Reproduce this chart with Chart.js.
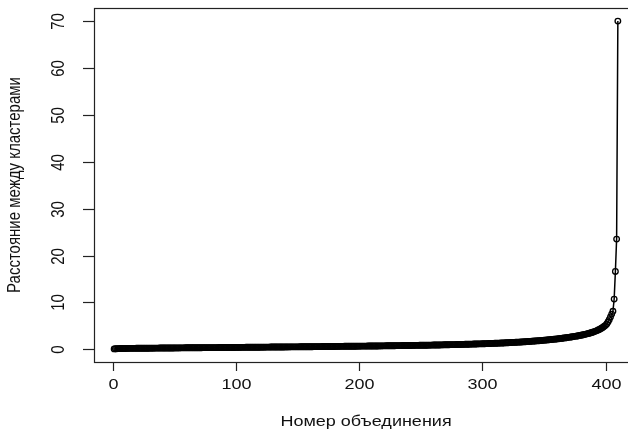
<!DOCTYPE html>
<html>
<head>
<meta charset="utf-8">
<script src="https://cdn.jsdelivr.net/npm/chart.js@4/dist/chart.umd.min.js"></script>
<style>
  html, body { margin: 0; padding: 0; background: #fff; overflow: hidden; }
  #wrap { width: 650px; height: 431px; }
</style>
</head>
<body>
<div id="wrap"><canvas id="myChart" width="650" height="431"></canvas></div>
<script>
// merge heights (sorted), one value per merge step
let heights = [
  0.08, 0.10, 0.12, 0.13, 0.14, 0.15, 0.16, 0.16, 0.17, 0.17,
  0.18, 0.18, 0.19, 0.19, 0.19, 0.20, 0.20, 0.20, 0.21, 0.21,
  0.21, 0.22, 0.22, 0.22, 0.22, 0.23, 0.23, 0.23, 0.23, 0.24,
  0.24, 0.24, 0.24, 0.25, 0.25, 0.25, 0.25, 0.26, 0.26, 0.26,
  0.26, 0.27, 0.27, 0.27, 0.27, 0.28, 0.28, 0.28, 0.28, 0.29,
  0.29, 0.29, 0.29, 0.29, 0.30, 0.30, 0.30, 0.30, 0.31, 0.31,
  0.31, 0.31, 0.31, 0.32, 0.32, 0.32, 0.32, 0.33, 0.33, 0.33,
  0.33, 0.33, 0.34, 0.34, 0.34, 0.34, 0.35, 0.35, 0.35, 0.35,
  0.35, 0.36, 0.36, 0.36, 0.36, 0.37, 0.37, 0.37, 0.37, 0.37,
  0.38, 0.38, 0.38, 0.38, 0.39, 0.39, 0.39, 0.39, 0.39, 0.40,
  0.40, 0.40, 0.40, 0.41, 0.41, 0.41, 0.41, 0.42, 0.42, 0.42,
  0.42, 0.43, 0.43, 0.43, 0.43, 0.44, 0.44, 0.44, 0.44, 0.45,
  0.45, 0.45, 0.45, 0.46, 0.46, 0.46, 0.46, 0.47, 0.47, 0.47,
  0.47, 0.48, 0.48, 0.48, 0.48, 0.49, 0.49, 0.49, 0.49, 0.50,
  0.50, 0.50, 0.50, 0.51, 0.51, 0.51, 0.51, 0.52, 0.52, 0.52,
  0.52, 0.53, 0.53, 0.53, 0.53, 0.54, 0.54, 0.54, 0.55, 0.55,
  0.55, 0.55, 0.56, 0.56, 0.56, 0.56, 0.57, 0.57, 0.57, 0.58,
  0.58, 0.58, 0.58, 0.59, 0.59, 0.59, 0.60, 0.60, 0.60, 0.60,
  0.61, 0.61, 0.61, 0.62, 0.62, 0.62, 0.62, 0.63, 0.63, 0.63,
  0.64, 0.64, 0.64, 0.64, 0.65, 0.65, 0.65, 0.66, 0.66, 0.66,
  0.67, 0.67, 0.67, 0.68, 0.68, 0.68, 0.69, 0.69, 0.69, 0.70,
  0.70, 0.70, 0.71, 0.71, 0.71, 0.72, 0.72, 0.72, 0.73, 0.73,
  0.73, 0.74, 0.74, 0.74, 0.75, 0.75, 0.76, 0.76, 0.76, 0.77,
  0.77, 0.77, 0.78, 0.78, 0.79, 0.79, 0.79, 0.80, 0.80, 0.81,
  0.81, 0.81, 0.82, 0.82, 0.83, 0.83, 0.84, 0.84, 0.85, 0.85,
  0.85, 0.86, 0.86, 0.87, 0.87, 0.88, 0.88, 0.89, 0.89, 0.90,
  0.90, 0.91, 0.91, 0.92, 0.92, 0.93, 0.93, 0.94, 0.95, 0.95,
  0.96, 0.96, 0.97, 0.98, 0.98, 0.99, 1.00, 1.00, 1.01, 1.02,
  1.02, 1.03, 1.04, 1.04, 1.05, 1.06, 1.07, 1.07, 1.08, 1.09,
  1.10, 1.10, 1.11, 1.12, 1.13, 1.14, 1.15, 1.16, 1.16, 1.17,
  1.18, 1.19, 1.20, 1.21, 1.22, 1.23, 1.24, 1.25, 1.26, 1.27,
  1.28, 1.29, 1.30, 1.32, 1.33, 1.34, 1.35, 1.36, 1.38, 1.39,
  1.40, 1.42, 1.43, 1.44, 1.46, 1.47, 1.49, 1.50, 1.52, 1.53,
  1.55, 1.56, 1.58, 1.60, 1.61, 1.63, 1.65, 1.67, 1.69, 1.71,
  1.73, 1.75, 1.77, 1.79, 1.81, 1.83, 1.85, 1.88, 1.90, 1.92,
  1.95, 1.97, 2.00, 2.02, 2.05, 2.08, 2.11, 2.13, 2.16, 2.19,
  2.22, 2.25, 2.29, 2.32, 2.35, 2.39, 2.42, 2.46, 2.50, 2.54,
  2.58, 2.62, 2.66, 2.70, 2.75, 2.80, 2.84, 2.89, 2.94, 3.00,
  3.05, 3.11, 3.17, 3.23, 3.29, 3.36, 3.43, 3.51, 3.59, 3.68,
  3.77, 3.87, 3.98, 4.10, 4.23, 4.37, 4.52, 4.70, 4.90, 5.10,
  5.40, 5.80, 6.30, 6.90, 7.50, 8.10, 10.70, 16.60, 23.50, 70.00
];
let x_ticks = [0, 100, 200, 300, 400];
let y_ticks = [0, 10, 20, 30, 40, 50, 60, 70];
let x_title = "Номер объединения";
let y_title = "Расстояние между кластерами";

const FONT = '"Liberation Sans", Arial, Helvetica, sans-serif';
const STRETCH = 1.2; // the scanned picture is a bit wider than tall

/** writes text centered at (x, y), stretched sideways, optionally turned upright */
function put_text(ctx, txt, x, y, upright) {
    ctx.save();
    ctx.translate(x, y);
    ctx.scale(STRETCH, 1);
    if (upright) ctx.rotate(-Math.PI / 2);
    ctx.fillText(txt, 0, 0);
    ctx.restore();
}

/** R-style axes: box, outside ticks, rotated y labels */
const r_axes = {
    id: 'r_axes',
    afterDraw(chart) {
        const ctx = chart.ctx;
        const a = chart.chartArea;
        const xs = chart.scales.x, ys = chart.scales.y;
        ctx.save();
        ctx.strokeStyle = '#222';
        ctx.lineWidth = 1.2;
        ctx.strokeRect(Math.round(a.left) + 0.5, Math.round(a.top) + 0.5,
                       Math.round(a.right - a.left), Math.round(a.bottom - a.top));
        ctx.fillStyle = '#111';
        ctx.font = '15px ' + FONT;
        ctx.textAlign = 'center';
        ctx.textBaseline = 'middle';
        // x axis
        x_ticks.forEach(v => {
            const px = Math.round(xs.getPixelForValue(v)) + 0.5;
            ctx.beginPath();
            ctx.moveTo(px, a.bottom);
            ctx.lineTo(px, a.bottom + 9);
            ctx.stroke();
            put_text(ctx, String(v), px, a.bottom + 23, false);
        });
        // y axis
        y_ticks.forEach(v => {
            const py = Math.round(ys.getPixelForValue(v)) + 0.5;
            ctx.beginPath();
            ctx.moveTo(a.left - 11, py);
            ctx.lineTo(a.left, py);
            ctx.stroke();
            put_text(ctx, String(v), a.left - 35, py, true);
        });
        // titles
        put_text(ctx, x_title, (a.left + a.right) / 2, 422, false);
        put_text(ctx, y_title, 15, (a.top + a.bottom) / 2, true);
        ctx.restore();
    }
};

function draw() {
    const n = heights.length;
    const ymax = Math.max(...heights), ymin = Math.min(...heights);
    let ctx = document.getElementById('myChart').getContext('2d');
    new Chart(ctx, {
        type: 'line',
        data: {
            datasets: [{
                data: heights.map((h, i) => ({ x: i + 1, y: h })),
                borderColor: '#000',
                borderWidth: 1.5,
                pointRadius: 2.8,
                pointBorderWidth: 1.3,
                pointBorderColor: '#000',
                pointBackgroundColor: 'rgba(0,0,0,0)',
                fill: false,
                tension: 0
            }]
        },
        options: {
            responsive: false,
            animation: false,
            events: [],
            layout: { padding: { left: 94, top: 8, right: 12, bottom: 69 } },
            plugins: { legend: { display: false }, tooltip: { enabled: false } },
            scales: {
                x: {
                    type: 'linear',
                    min: 1 - 0.04 * (n - 1),
                    max: n + 0.04 * (n - 1),
                    ticks: { display: false },
                    grid: { display: false, drawTicks: false },
                    border: { display: false }
                },
                y: {
                    min: ymin - 0.04 * (ymax - ymin),
                    max: ymax + 0.04 * (ymax - ymin),
                    ticks: { display: false },
                    grid: { display: false, drawTicks: false },
                    border: { display: false }
                }
            }
        },
        plugins: [r_axes]
    });
}
draw();
</script>
</body>
</html>
